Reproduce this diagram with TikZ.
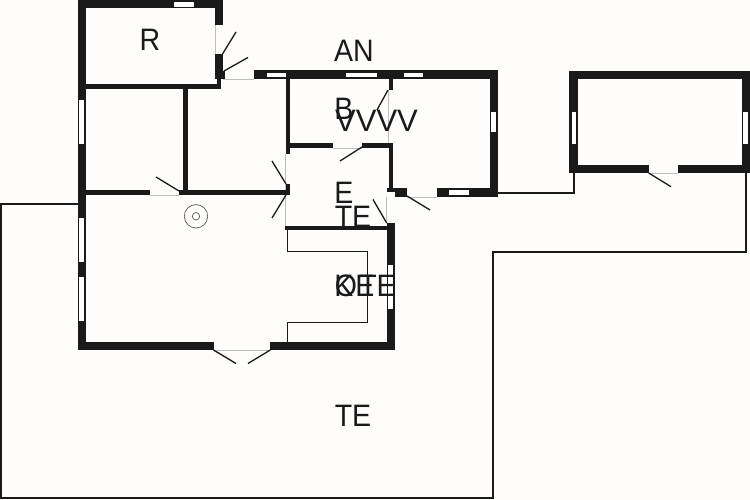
\documentclass[tikz,border=0pt]{standalone}
\usepackage{fontspec}
\setmainfont[FakeStretch=0.92]{Liberation Sans}
\newfontfamily\widefont{Liberation Sans}
\definecolor{wallc}{HTML}{1A1A1A}
\definecolor{paperc}{HTML}{FEFDFC}
\tikzset{
  x=1pt,y=-1pt,
  wall/.style={fill=wallc,draw=none},
  win/.style={fill=white,draw=none},
  leaf/.style={draw=wallc,line width=1.3pt},
  sill/.style={draw=black!25,line width=0.7pt},
  ground/.style={draw=wallc,line width=1.7pt},
  counter/.style={draw=wallc,line width=1.2pt},
  stove/.style={draw=black!65,line width=0.7pt},
  lab/.style={font=\fontsize{31}{31}\selectfont,text=wallc,inner sep=0pt,anchor=center}
}
\begin{document}
\begin{tikzpicture}
\useasboundingbox (0,0) rectangle (750,500);
\fill[paperc] (0,0) rectangle (750,500);
% ground outline
\coordinate (g1) at (498,192.7); \coordinate (g2) at (573.7,192.7); \coordinate (g3) at (573.7,173);
\draw[ground] (g1) -- (g2) -- (g3);
\coordinate (g4) at (745.7,173); \coordinate (g5) at (745.7,251.7); \coordinate (g6) at (493,251.7);
\coordinate (g7) at (493,498); \coordinate (g8) at (0.7,498); \coordinate (g9) at (0.7,204); \coordinate (g10) at (78,204);
\draw[ground] (g4) -- (g5) -- (g6) -- (g7) -- (g8) -- (g9) -- (g10);
% door sills
\draw[sill] (215,25) -- (215,54.5);
\draw[sill] (223,79) -- (254,79);
\draw[sill] (285.5,154) -- (285.5,226);
\draw[sill] (333,148) -- (362,148);
\draw[sill] (150,195) -- (179,195);
\draw[sill] (386.7,197) -- (386.7,223);
\draw[sill] (407,197) -- (437,197);
\draw[sill] (213.5,350) -- (270.3,350);
\draw[sill] (648.7,173) -- (677.7,173);
\draw[sill] (388.7,90) -- (388.7,143);
% walls: main
\fill[wall] (77.5,0) rectangle (85.5,350.3);
\fill[wall] (77.5,0) rectangle (223,8.5);
\fill[wall] (214.5,0) rectangle (223,25);
\fill[wall] (214.5,54.5) rectangle (223,79);
\fill[wall] (220,71) rectangle (225,79);
\fill[wall] (217,79) rectangle (221,89);
\fill[wall] (85,84) rectangle (221,89);
\fill[wall] (182.5,89) rectangle (187.5,195);
\fill[wall] (85,190.5) rectangle (150,195);
\fill[wall] (179,190.5) rectangle (288,195);
\fill[wall] (286,184) rectangle (290,195);
\fill[wall] (254,70.5) rectangle (498,79);
\fill[wall] (285.5,79) rectangle (290,154);
\fill[wall] (290,143) rectangle (333,148);
\fill[wall] (362,143) rectangle (389,148);
\fill[wall] (388.5,79) rectangle (393.3,90);
\fill[wall] (388.5,143) rectangle (393.3,190);
\fill[wall] (386.7,188) rectangle (395,192.5);
\fill[wall] (395,188) rectangle (407,197);
\fill[wall] (436.7,188) rectangle (498,197);
\fill[wall] (490,70.5) rectangle (498,197);
\fill[wall] (285,225.7) rectangle (387,230.3);
\fill[wall] (386.7,223) rectangle (395,350.3);
\fill[wall] (77.5,341.7) rectangle (213.5,350.3);
\fill[wall] (270.3,341.7) rectangle (395,350.3);
% walls: annexe
\fill[wall] (569.3,70.7) rectangle (750,79.3);
\fill[wall] (569.3,70.7) rectangle (577.7,173.3);
\fill[wall] (741.7,70.7) rectangle (750,173.3);
\fill[wall] (569.3,165) rectangle (648.7,173.3);
\fill[wall] (677.7,165) rectangle (750,173.3);
% windows
\fill[win] (174.3,2) rectangle (194.3,6.7);
\fill[win] (79,100) rectangle (84,144);
\fill[win] (79,217.7) rectangle (84,261.7);
\fill[win] (79,276.7) rectangle (84,320.7);
\fill[win] (266.5,72.7) rectangle (285.5,77.3);
\fill[win] (346,72.7) rectangle (377,77.3);
\fill[win] (403.5,72.7) rectangle (423,77.3);
\fill[win] (491.3,112) rectangle (496,132);
\fill[win] (449,190.3) rectangle (469,195);
\fill[win] (388,265) rectangle (393.3,309);
\fill[win] (571.7,112) rectangle (576.3,144);
\fill[win] (743.3,112) rectangle (748,144);
% door leaves
\draw[leaf] (222.5,54) -- (236,32);
\draw[leaf] (224,71) -- (248,57.5);
\draw[leaf] (179,191) -- (156,177);
\draw[leaf] (286,184) -- (272,161);
\draw[leaf] (286,195) -- (272,218);
\draw[leaf] (388,90) -- (377,110);
\draw[leaf] (362,147) -- (340,161);
\draw[leaf] (407,196) -- (430,210);
\draw[leaf] (386.7,223) -- (373,199.5);
\draw[leaf] (213.5,350) -- (236,363.5);
\draw[leaf] (270.3,350) -- (248,363.5);
\draw[leaf] (648.7,173) -- (671,186.7);
% kitchen counter
\draw[counter] (287.3,230) -- (287.3,251.7) -- (367.7,251.7) -- (367.7,322.3) -- (287.3,322.3) -- (287.3,342);
% stove
\draw[stove] (196,216.3) circle (11.7);
\draw[stove] (196,216.3) circle (3.7);
% labels
\node[lab] (lR) at (150,40) {R};
\node[lab] (lAN) at (354,51) {AN};
\node[lab] (lB) at (344,109) {B};
\node[lab,font=\widefont\fontsize{31}{31}\selectfont] (lV) at (376.5,121) {VVVV};
\node[lab] (lE) at (344,193) {E};
\node[lab] (lTE) at (353,217) {TE};
\node[lab] (lK) at (344,286) {K};
\node[lab] (lO) at (346,286) {O};
\node[lab] (lE1) at (365,286) {E};
\node[lab] (lTE2) at (377.5,286) {TE};
\node[lab] (lTE3) at (353,416) {TE};
\end{tikzpicture}
\end{document}
